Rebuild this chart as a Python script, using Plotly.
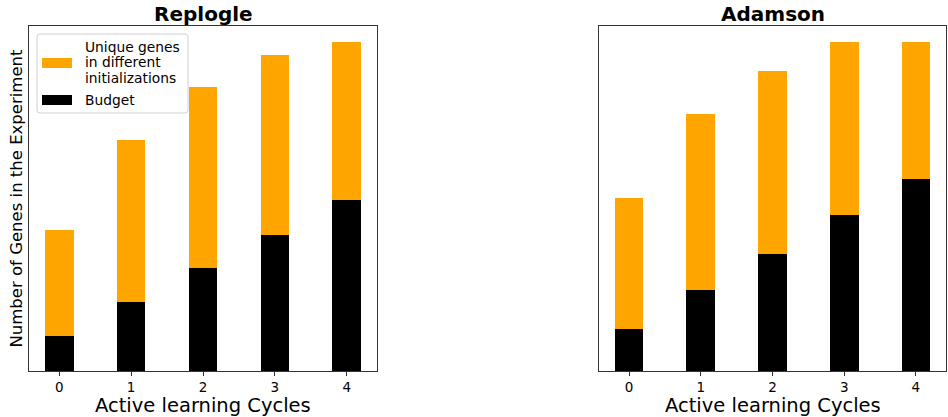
import plotly.graph_objects as go

W, H = 948, 417

cycles = [0, 1, 2, 3, 4]
tick_labels = ["0", "1", "2", "3", "4"]

replogle_budget = [102, 200, 300, 398, 500]
replogle_total = [413, 674, 828, 921, 959]

adamson_budget = [11, 21, 30.5, 40.5, 50]
adamson_total = [45, 67, 78, 85.5, 85.5]

titles = ["Replogle", "Adamson"]
xlabel = "Active learning Cycles"
ylabel = "Number of Genes in the Experiment"
legend_labels = [["Unique genes", "in different", "initializations"], ["Budget"]]

ORANGE = "#FFA500"
BLACK = "#000000"
SPINE = "#333333"
FONT = "DejaVu Sans"


def px(x):
    return x / W


def py(y):
    return 1 - y / H


fig = go.Figure()

datasets = [(replogle_budget, replogle_total), (adamson_budget, adamson_total)]
for i, (budget, total) in enumerate(datasets):
    xa = "x" if i == 0 else "x2"
    ya = "y" if i == 0 else "y2"
    unique = [t - b for t, b in zip(total, budget)]
    fig.add_trace(go.Bar(x=cycles, y=budget, width=0.4, marker_color=BLACK,
                         marker_line_width=0, xaxis=xa, yaxis=ya, showlegend=False,
                         name="Budget"))
    fig.add_trace(go.Bar(x=cycles, y=unique, width=0.4, marker_color=ORANGE,
                         marker_line_width=0, xaxis=xa, yaxis=ya, showlegend=False,
                         name="Unique genes in different initializations"))

domains_x = [[px(29), px(377)], [px(599), px(946)]]
dom_y = [py(371), py(26)]

axis_common = dict(showline=True, mirror=True, linecolor=SPINE, linewidth=1,
                   showgrid=False, zeroline=False)

for i, (budget, total) in enumerate(datasets):
    sfx = "" if i == 0 else "2"
    fig.layout["xaxis" + sfx] = dict(
        domain=domains_x[i], range=[-0.42, 4.42], tickvals=cycles, ticktext=tick_labels,
        ticks="outside", ticklen=4, tickcolor=SPINE,
        tickfont=dict(family=FONT, size=13.5, color="#000"),
        anchor="y" + sfx, **axis_common)
    fig.layout["yaxis" + sfx] = dict(
        domain=dom_y, range=[0, max(total) * 1.05], showticklabels=False, ticks="",
        anchor="x" + sfx, **axis_common)

annotations = []
for i in range(2):
    cx = (domains_x[i][0] + domains_x[i][1]) / 2
    annotations.append(dict(text="<b>%s</b>" % titles[i], x=cx, y=py(14), xref="paper",
                            yref="paper", showarrow=False, xanchor="center", yanchor="middle",
                            font=dict(family=FONT, size=20, color="#000")))
    annotations.append(dict(text=xlabel, x=cx, y=py(392), xref="paper", yref="paper",
                            showarrow=False, xanchor="center", yanchor="top",
                            font=dict(family=FONT, size=19.5, color="#000")))

annotations.append(dict(text=ylabel, x=px(16), y=py(198.5), xref="paper", yref="paper",
                        showarrow=False, textangle=-90, xanchor="center", yanchor="middle",
                        font=dict(family=FONT, size=16.5, color="#000")))

# legend (custom, matplotlib-style)
lx0, lx1, ly0, ly1 = 37, 188, 34, 113
r = 3
path = (f"M {px(lx0 + r)},{py(ly0)} L {px(lx1 - r)},{py(ly0)} "
        f"Q {px(lx1)},{py(ly0)} {px(lx1)},{py(ly0 + r)} "
        f"L {px(lx1)},{py(ly1 - r)} Q {px(lx1)},{py(ly1)} {px(lx1 - r)},{py(ly1)} "
        f"L {px(lx0 + r)},{py(ly1)} Q {px(lx0)},{py(ly1)} {px(lx0)},{py(ly1 - r)} "
        f"L {px(lx0)},{py(ly0 + r)} Q {px(lx0)},{py(ly0)} {px(lx0 + r)},{py(ly0)} Z")
shapes = [dict(type="path", path=path, xref="paper", yref="paper",
               line=dict(color="#d0d0d0", width=1), fillcolor="rgba(255,255,255,0.8)")]
shapes.append(dict(type="rect", xref="paper", yref="paper", x0=px(42), x1=px(72),
                   y0=py(68), y1=py(58), fillcolor=ORANGE, line_width=0))
shapes.append(dict(type="rect", xref="paper", yref="paper", x0=px(42), x1=px(72),
                   y0=py(105), y1=py(95), fillcolor=BLACK, line_width=0))

line_ys = [[47, 62.5, 78], [100]]
for labs, ys in zip(legend_labels, line_ys):
    for t, yy in zip(labs, ys):
        annotations.append(dict(text=t, x=px(83), y=py(yy), xref="paper", yref="paper",
                                showarrow=False, xanchor="left", yanchor="middle",
                                font=dict(family=FONT, size=13.8, color="#000")))

fig.update_layout(width=W, height=H, margin=dict(l=0, r=0, t=0, b=0),
                  barmode="stack", bargap=0, plot_bgcolor="white", paper_bgcolor="white",
                  annotations=annotations, shapes=shapes, showlegend=False,
                  font=dict(family=FONT))

fig.write_html("out.html", config={"displayModeBar": False}, post_script=(
    "document.body.style.margin='0px';document.body.style.padding='0px';"
    "document.body.style.overflow='hidden';"))
